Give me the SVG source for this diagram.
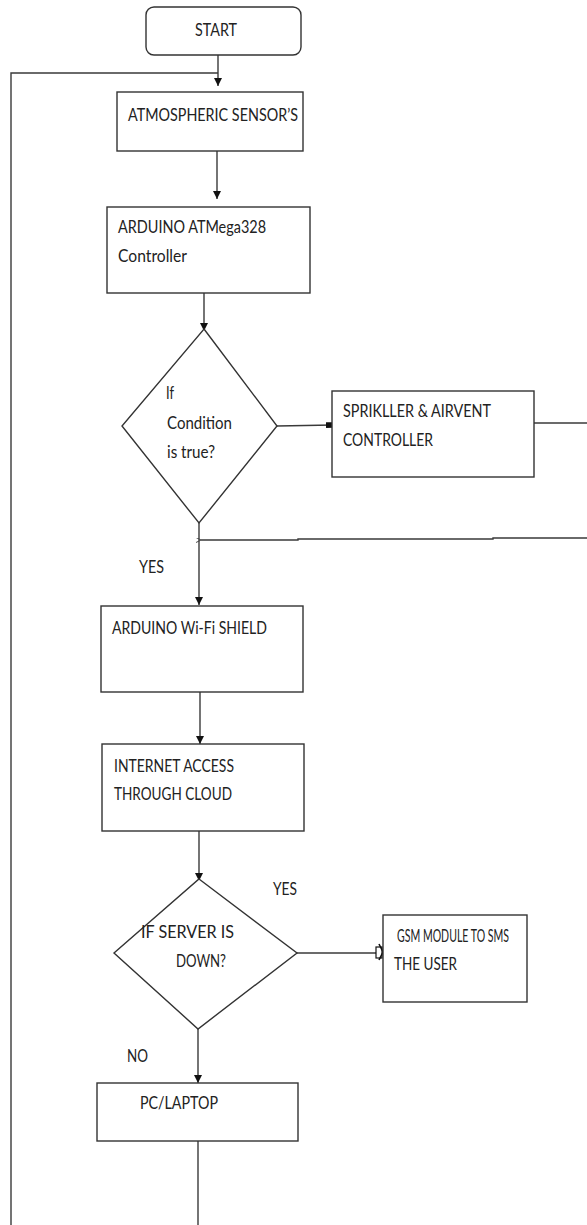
<svg xmlns="http://www.w3.org/2000/svg" width="587" height="1225" viewBox="0 0 587 1225">
<style>
  .box{fill:#fff;stroke:#333;stroke-width:1.4}
  .ln{fill:none;stroke:#3a3a3a;stroke-width:1.4}
  .t{font-family:Lato,"Open Sans","Liberation Sans",sans-serif;font-size:18px;fill:#222}
</style>
<defs>
  <marker id="arr" viewBox="0 0 10 10" refX="10" refY="5" markerWidth="8" markerHeight="9" markerUnits="userSpaceOnUse" orient="auto">
    <path d="M0,0 L10,5 L0,10 Z" fill="#111"/>
  </marker>
  <marker id="sq" viewBox="0 0 10 10" refX="10" refY="5" markerWidth="7" markerHeight="9" markerUnits="userSpaceOnUse" orient="auto">
    <rect x="0" y="1" width="10" height="8" fill="#111"/>
  </marker>
  <marker id="thin" viewBox="0 0 10 10" refX="0" refY="5" markerWidth="5" markerHeight="5" markerUnits="userSpaceOnUse" orient="auto">
    <path d="M10,0 L0,5 L10,10" fill="none" stroke="#111" stroke-width="1.5"/>
  </marker>
</defs>
<rect width="587" height="1225" fill="#fff"/>

<g id="connectors">
  <polyline class="ln" points="11,1225 11,73 218,73"/>
  <line class="ln" x1="218" y1="55" x2="218" y2="86" marker-end="url(#arr)"/>
  <line class="ln" x1="217" y1="151" x2="217" y2="199" marker-end="url(#arr)"/>
  <line class="ln" x1="204" y1="293" x2="204" y2="331" marker-end="url(#arr)"/>
  <line class="ln" x1="277" y1="426" x2="333" y2="425" marker-end="url(#sq)"/>
  <line class="ln" x1="534" y1="423" x2="587" y2="423"/>
  <polyline class="ln" points="587,538 493,538 493,539 298,539 298,540 201,540" marker-end="url(#thin)"/>
  <line class="ln" x1="199" y1="523" x2="199" y2="605" marker-end="url(#arr)"/>
  <line class="ln" x1="200" y1="692" x2="200" y2="744" marker-end="url(#arr)"/>
  <line class="ln" x1="199" y1="831" x2="199" y2="881" marker-end="url(#arr)"/>
  <line class="ln" x1="297" y1="953" x2="383" y2="953"/>
  <rect x="376" y="947" width="6" height="11" fill="#fff" stroke="#111" stroke-width="1.2"/>
  <path d="M379,944 L383,952 L379,960" fill="none" stroke="#111" stroke-width="1.6"/>
  <line class="ln" x1="198" y1="1029" x2="198" y2="1083" marker-end="url(#arr)"/>
  <line class="ln" x1="198" y1="1141" x2="198" y2="1225"/>
</g>

<g id="start">
  <rect class="box" x="146" y="7" width="155" height="48" rx="8"/>
  <text class="t" x="195" y="36" textLength="42" lengthAdjust="spacingAndGlyphs">START</text>
</g>

<g id="sensors">
  <rect class="box" x="117" y="92" width="186" height="59"/>
  <text class="t" x="128" y="121" textLength="170" lengthAdjust="spacingAndGlyphs">ATMOSPHERIC SENSOR’S</text>
</g>

<g id="arduino">
  <rect class="box" x="107" y="207" width="203" height="86"/>
  <text class="t" x="118" y="233" textLength="148" lengthAdjust="spacingAndGlyphs">ARDUINO ATMega328</text>
  <text class="t" x="118" y="262" textLength="69" lengthAdjust="spacingAndGlyphs">Controller</text>
</g>

<g id="condition">
  <polygon class="box" points="204,329 277,426 199,523 122,426"/>
  <text class="t" x="166" y="399" textLength="8" lengthAdjust="spacingAndGlyphs">If</text>
  <text class="t" x="167" y="429" textLength="65" lengthAdjust="spacingAndGlyphs">Condition</text>
  <text class="t" x="167" y="458" textLength="48" lengthAdjust="spacingAndGlyphs">is true?</text>
</g>

<g id="sprinkler">
  <rect class="box" x="332" y="391" width="202" height="86"/>
  <text class="t" x="343" y="417" textLength="148" lengthAdjust="spacingAndGlyphs">SPRIKLLER &amp; AIRVENT</text>
  <text class="t" x="343" y="446" textLength="90" lengthAdjust="spacingAndGlyphs">CONTROLLER</text>
</g>

<g id="yes1">
  <text class="t" x="139" y="573" textLength="25" lengthAdjust="spacingAndGlyphs">YES</text>
</g>

<g id="wifi">
  <rect class="box" x="101" y="606" width="202" height="86"/>
  <text class="t" x="112" y="634" textLength="155" lengthAdjust="spacingAndGlyphs">ARDUINO Wi-Fi SHIELD</text>
</g>

<g id="internet">
  <rect class="box" x="102" y="744" width="202" height="87"/>
  <text class="t" x="114" y="772" textLength="120" lengthAdjust="spacingAndGlyphs">INTERNET ACCESS</text>
  <text class="t" x="114" y="800" textLength="118" lengthAdjust="spacingAndGlyphs">THROUGH CLOUD</text>
</g>

<g id="server">
  <polygon class="box" points="199,879 297,953 198,1029 114,953"/>
  <text class="t" x="141" y="938" textLength="93" lengthAdjust="spacingAndGlyphs">IF SERVER IS</text>
  <text class="t" x="176" y="967" textLength="50" lengthAdjust="spacingAndGlyphs">DOWN?</text>
</g>

<g id="yes2">
  <text class="t" x="273" y="895" textLength="24" lengthAdjust="spacingAndGlyphs">YES</text>
</g>

<g id="gsm">
  <rect class="box" x="383" y="915" width="144" height="87"/>
  <text class="t" x="397" y="942" textLength="112" lengthAdjust="spacingAndGlyphs">GSM MODULE TO SMS</text>
  <text class="t" x="394" y="970" textLength="63" lengthAdjust="spacingAndGlyphs">THE USER</text>
</g>

<g id="no">
  <text class="t" x="127" y="1062" textLength="21" lengthAdjust="spacingAndGlyphs">NO</text>
</g>

<g id="pc">
  <rect class="box" x="97" y="1083" width="201" height="58"/>
  <text class="t" x="140" y="1109" textLength="78" lengthAdjust="spacingAndGlyphs">PC/LAPTOP</text>
</g>
</svg>
